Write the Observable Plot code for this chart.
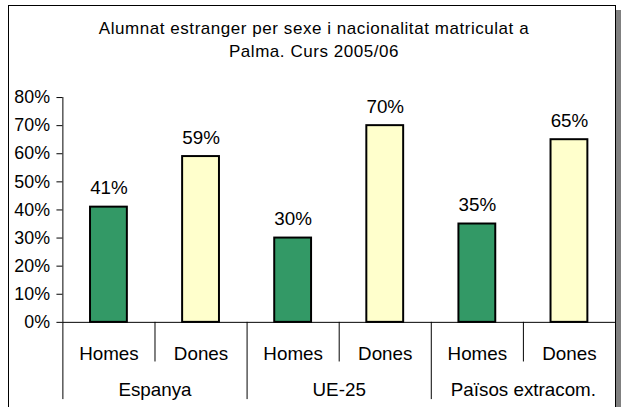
<!DOCTYPE html>
<html>
<head>
<meta charset="utf-8">
<script src="https://cdn.jsdelivr.net/npm/d3@7"></script>
<script src="https://cdn.jsdelivr.net/npm/@observablehq/plot@0.6"></script>
<style>
  html, body { margin: 0; padding: 0; background: #fff; }
  #wrap { position: relative; width: 621px; height: 407px; overflow: hidden; background: #fff; }
  #shadow { position: absolute; left: 13px; top: 10px; width: 608px; height: 420px; background: #808080; }
  #box { position: absolute; left: 8px; top: 5px; width: 606px; height: 420px; border: 1px solid #000; background: #fff; overflow: hidden; }
  #chart { position: absolute; left: -9px; top: -6px; }
  #title { position: absolute; left: 0; top: 11px; width: 100%; padding-left: 4px; box-sizing: border-box; text-align: center;
           font-family: "Liberation Sans", Arial, sans-serif; font-size: 17px; line-height: 23px; letter-spacing: 0.55px; color: #000; z-index: 2; }
</style>
</head>
<body>
<div id="wrap">
  <div id="shadow"></div>
  <div id="box">
    <div id="chart"></div>
    <div id="title">Alumnat estranger per sexe i nacionalitat matriculat a<br>Palma. Curs 2005/06</div>
  </div>
</div>
<script>
const groups = ["Espanya", "UE-25", "Països extracom."];
const sexes = ["Homes", "Dones"];
const homesPct = [41, 30, 35];
const donesPct = [59, 70, 65];
const yTicks = [0, 10, 20, 30, 40, 50, 60, 70, 80];
const barColors = ["#339966", "#FFFFCC"];

const rows = [];
groups.forEach((g, i) => {
  rows.push({group: g, sex: "Homes", key: g + "|Homes", value: homesPct[i]});
  rows.push({group: g, sex: "Dones", key: g + "|Dones", value: donesPct[i]});
});
const keys = rows.map(d => d.key);

const W = 621, H = 407, mL = 63, mR = 0, mT = 98, mB = 82;
const step = (W - mL - mR) / keys.length;

const chart = Plot.plot({
  width: W, height: H,
  marginLeft: mL, marginRight: mR, marginTop: mT, marginBottom: mB,
  style: {fontFamily: "'Liberation Sans', Arial, sans-serif", fontSize: "18px", color: "#000", background: "transparent", overflow: "visible"},
  x: {type: "band", domain: keys, paddingInner: 0.6, paddingOuter: 0.3, round: false, label: null},
  y: {domain: [0, 80], label: null},
  color: {domain: sexes, range: barColors},
  marks: [
    Plot.barY(rows, {x: "key", y: "value", fill: "sex", stroke: "#000", strokeWidth: 2}),
    Plot.ruleY([0], {stroke: "#000"}),
    Plot.ruleX([keys[0]], {x: d => d, dx: -step / 2, stroke: "#000"}),
    Plot.axisY(yTicks, {tickSize: 6, tickPadding: 7, label: null, tickFormat: d => d + "%", fontSize: 18, stroke: "#000"}),
    Plot.axisX(keys.filter(k => k.endsWith("|Dones")), {tickSize: 40, dx: -step / 2, tickFormat: () => "", label: null}),
    Plot.axisX(keys.filter(k => k.endsWith("|Homes")), {tickSize: 78, dx: -step / 2, tickFormat: () => "", label: null}),
    Plot.text(rows, {x: "key", text: "sex", frameAnchor: "bottom", lineAnchor: "bottom", dy: 38, fontSize: 19}),
    Plot.text(rows.filter(d => d.sex === "Dones"), {x: "key", text: "group", frameAnchor: "bottom", lineAnchor: "bottom", dy: 74, dx: -step / 2, fontSize: 19}),
    Plot.text(rows, {x: "key", y: "value", text: d => d.value + "%", lineAnchor: "bottom", dy: -13, fontSize: 19})
  ]
});
document.getElementById("chart").appendChild(chart);
</script>
</body>
</html>
